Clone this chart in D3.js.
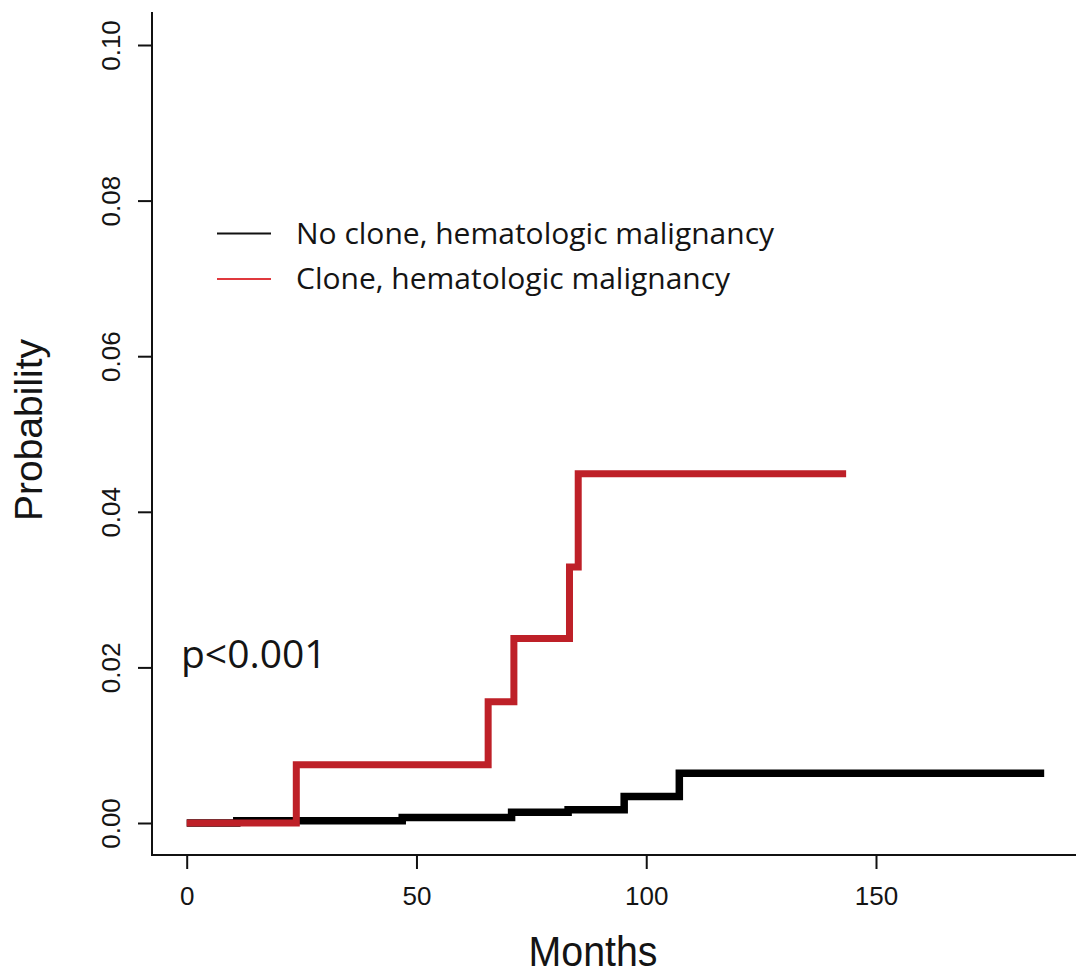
<!DOCTYPE html>
<html>
<head>
<meta charset="utf-8">
<script src="https://cdn.jsdelivr.net/npm/d3@7"></script>
<style>
  html, body { margin: 0; padding: 0; background: #fff; }
  svg { display: block; }
</style>
</head>
<body>
<div id="chart"></div>
<script>
// ---- data ----
const noCloneTimes  = [0, 10.9, 46.9, 70.7, 83.0, 95.2, 107.2, 186.6];
const noCloneProbs  = [0, 0.0003, 0.0007, 0.00137, 0.0017, 0.0034, 0.0064, 0.0064];
const cloneTimes    = [0, 23.85, 65.6, 71.2, 83.3, 85.2, 143.5];
const cloneProbs    = [0, 0.0075, 0.0156, 0.0237, 0.0329, 0.0449, 0.0449];
const xTicks = [0, 50, 100, 150];
const yTicks = [0, 0.02, 0.04, 0.06, 0.08, 0.10];
const legendLabels = ["No clone, hematologic malignancy", "Clone, hematologic malignancy"];
const pLabel = "p<0.001";

// ---- layout ----
const W = 1076, H = 980;
const svg = d3.select("#chart").append("svg").attr("width", W).attr("height", H);

const x = d3.scaleLinear().domain([0, 150]).range([186.7, 876]);
const y = d3.scaleLinear().domain([0, 0.1]).range([823, 45]);

const axisX = 152, axisY = 855;
const textColor = "#141414";

// axis lines (L-shaped)
svg.append("line").attr("x1", axisX).attr("x2", axisX).attr("y1", 12).attr("y2", axisY + 1)
  .attr("stroke", "#111").attr("stroke-width", 2);
svg.append("line").attr("x1", axisX - 1).attr("x2", W).attr("y1", axisY).attr("y2", axisY)
  .attr("stroke", "#111").attr("stroke-width", 2);

// y axis
const gy = svg.append("g").attr("transform", `translate(${axisX},0)`)
  .call(d3.axisLeft(y).tickValues(yTicks).tickSize(14).tickSizeOuter(0).tickFormat(d3.format(".2f")));
gy.select(".domain").remove();
gy.selectAll(".tick line").attr("stroke", "#111").attr("stroke-width", 2);
gy.selectAll(".tick text")
  .attr("x", null).attr("dy", null)
  .attr("transform", "translate(-32,0) rotate(-90)")
  .attr("text-anchor", "middle")
  .attr("fill", textColor)
  .style("font-family", "'Liberation Sans', Arial, sans-serif")
  .style("font-size", "26px");

// x axis
const gx = svg.append("g").attr("transform", `translate(0,${axisY})`)
  .call(d3.axisBottom(x).tickValues(xTicks).tickSize(14).tickSizeOuter(0).tickFormat(d3.format("d")));
gx.select(".domain").remove();
gx.selectAll(".tick line").attr("stroke", "#111").attr("stroke-width", 2);
gx.selectAll(".tick text")
  .attr("y", 50).attr("dy", null)
  .attr("fill", textColor)
  .style("font-family", "'Liberation Sans', Arial, sans-serif")
  .style("font-size", "26px");

// axis titles
svg.append("text").attr("x", 593).attr("y", 966).attr("text-anchor", "middle")
  .attr("fill", textColor)
  .style("font-family", "'Liberation Sans', Arial, sans-serif").style("font-size", "42px")
  .attr("textLength", 129).attr("lengthAdjust", "spacingAndGlyphs")
  .text("Months");
svg.append("text").attr("transform", "translate(42,430) rotate(-90)").attr("text-anchor", "middle")
  .attr("fill", textColor)
  .style("font-family", "'Liberation Sans', Arial, sans-serif").style("font-size", "39px")
  .text("Probability");

// step curves
const line = d3.line().curve(d3.curveStepAfter).x(d => x(d[0])).y(d => y(d[1]));
const blackData = d3.zip(noCloneTimes, noCloneProbs);
const redData = d3.zip(cloneTimes, cloneProbs);

svg.append("path").datum(blackData).attr("d", line)
  .attr("fill", "none").attr("stroke", "#000").attr("stroke-width", 7.5)
  .attr("stroke-linejoin", "miter").attr("stroke-linecap", "butt");
svg.append("path").datum(redData).attr("d", line)
  .attr("fill", "none").attr("stroke", "#be2028").attr("stroke-width", 7)
  .attr("stroke-linejoin", "miter").attr("stroke-linecap", "butt");

// legend
const legendColors = ["#111", "#e0393e"];
const legendY = [233.5, 279];
legendLabels.forEach((lab, i) => {
  svg.append("line").attr("x1", 217).attr("x2", 271).attr("y1", legendY[i]).attr("y2", legendY[i])
    .attr("stroke", legendColors[i]).attr("stroke-width", 2);
  svg.append("text").attr("x", 296).attr("y", legendY[i] + 10)
    .attr("fill", textColor)
    .style("font-family", "'Open Sans', 'Noto Sans', sans-serif").style("font-size", "30px")
    .text(lab);
});

// p-value
svg.append("text").attr("x", 181).attr("y", 668)
  .attr("fill", textColor)
  .style("font-family", "'Open Sans', 'Noto Sans', sans-serif").style("font-size", "39px")
  .text(pLabel);
</script>
</body>
</html>
